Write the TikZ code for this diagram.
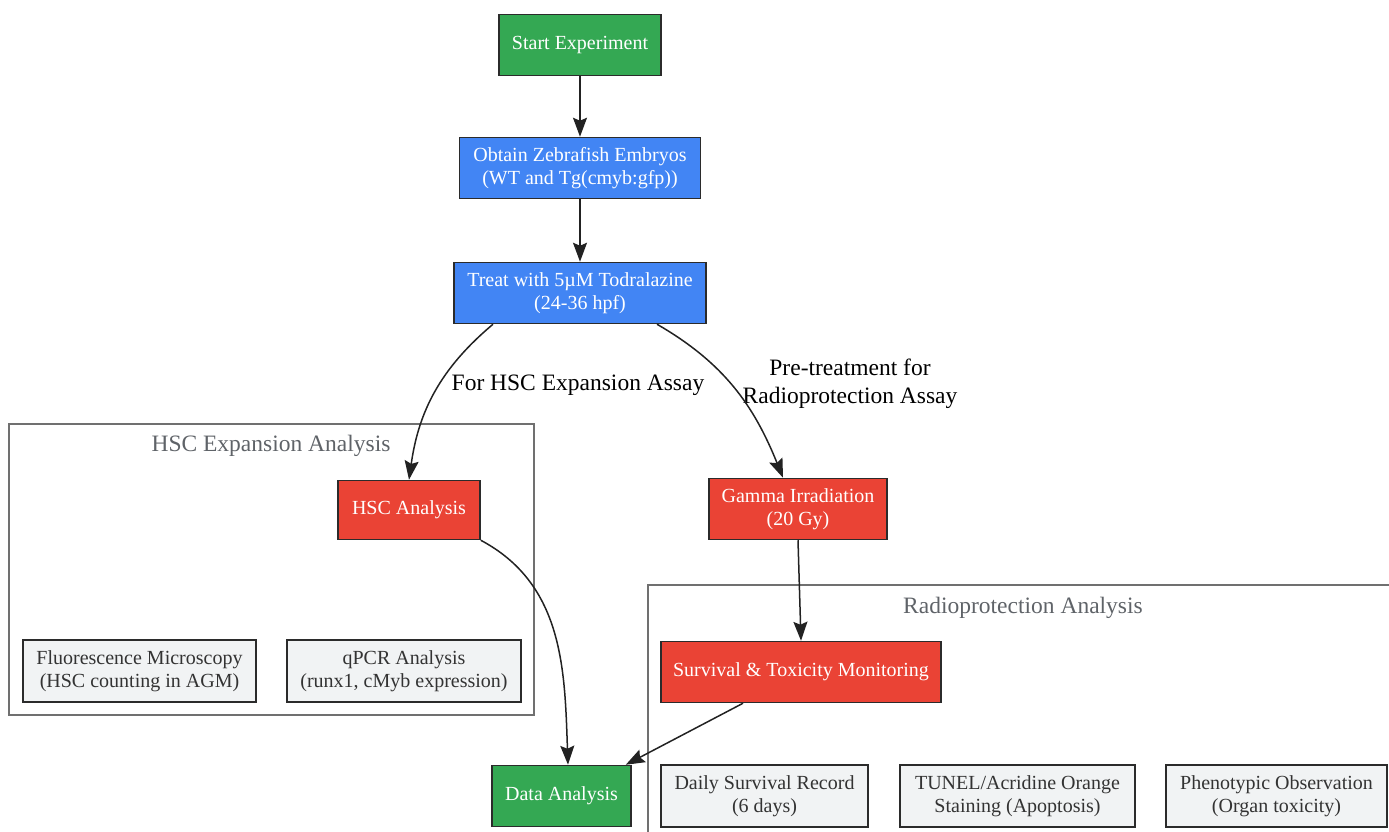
\documentclass[tikz,border=0pt]{standalone}
\usepackage{fontspec}
\setmainfont{Liberation Serif}
\usetikzlibrary{arrows.meta}

\definecolor{stepgreen}{HTML}{34A853}
\definecolor{stepblue}{HTML}{4285F4}
\definecolor{stepred}{HTML}{EA4335}
\definecolor{stepgrey}{HTML}{F1F3F4}
\definecolor{boxline}{HTML}{2B2B2B}
\definecolor{edgeline}{HTML}{222222}
\definecolor{clusterline}{HTML}{707070}
\definecolor{titlegrey}{HTML}{5F6368}
\definecolor{textgrey}{HTML}{333333}

\tikzset{
  box/.style={draw=boxline, line width=1.5pt, minimum height=61pt, inner sep=0pt,
    align=center, font=\fontsize{20}{23}\selectfont},
  greenbox/.style={box, fill=stepgreen, text=white},
  bluebox/.style={box, fill=stepblue, text=white},
  redbox/.style={box, fill=stepred, text=white},
  greybox/.style={box, fill=stepgrey, text=textgrey},
  cluster/.style={draw=clusterline, line width=1.5pt},
  clustertitle/.style={text=titlegrey, font=\fontsize{23.5}{28}\selectfont},
  edgelabel/.style={align=center, text=black, font=\fontsize{23.5}{28}\selectfont},
  flow/.style={draw=edgeline, line width=1.5pt, -{Stealth[length=19pt,width=14pt,inset=3pt]}}
}

\begin{document}
\begin{tikzpicture}[x=1pt,y=1pt]
\useasboundingbox (0,0) rectangle (1389,832);

% analysis groups
\draw[cluster] (9,117) rectangle (534,408);
\node[clustertitle] (hsctitle) at (271,386) {HSC Expansion Analysis};
\draw[cluster] (648,-5) rectangle (1400,247);
\node[clustertitle] (radiotitle) at (1023,224) {Radioprotection Analysis};

% main steps
\node[greenbox, minimum width=162pt] (start) at (580,787) {Start Experiment};
\node[bluebox, minimum width=241pt] (embryos) at (580,664) {Obtain Zebrafish Embryos\\(WT and Tg(cmyb:gfp))};
\node[bluebox, minimum width=252pt] (treat) at (580,539) {Treat with 5µM Todralazine\\(24-36 hpf)};
\node[redbox, minimum width=142pt, minimum height=59pt] (hsc) at (409,322) {HSC Analysis};
\node[redbox, minimum width=178pt] (gamma) at (798,323) {Gamma Irradiation\\(20 Gy)};
\node[redbox, minimum width=280pt] (survival) at (801,160) {Survival \& Toxicity Monitoring};
\node[greenbox, minimum width=139pt] (data) at (561.5,36) {Data Analysis};

% methods
\node[greybox, minimum width=233pt, minimum height=62pt] (fluor) at (139.5,161) {Fluorescence Microscopy\\(HSC counting in AGM)};
\node[greybox, minimum width=234pt, minimum height=62pt] (qpcr) at (404,161) {qPCR Analysis\\(runx1, cMyb expression)};
\node[greybox, minimum width=207pt, minimum height=62pt] (daily) at (764.5,36) {Daily Survival Record\\(6 days)};
\node[greybox, minimum width=235pt, minimum height=62pt] (tunel) at (1017.5,36) {TUNEL/Acridine Orange\\Staining (Apoptosis)};
\node[greybox, minimum width=221pt, minimum height=62pt] (pheno) at (1276.5,36) {Phenotypic Observation\\(Organ toxicity)};

% edge labels
\node[edgelabel] (lblhsc) at (578,447) {For HSC Expansion Assay};
\node[edgelabel] (lblradio) at (850,448) {Pre-treatment for\\Radioprotection Assay};

% connectors
\draw[flow] (start) -- (embryos);
\draw[flow] (embryos) -- (treat);
\draw[flow] ([xshift=-87pt]treat.south) to[out=220,in=82] (hsc.north);
\draw[flow] ([xshift=77pt]treat.south) to[out=-30,in=112] ([xshift=-15pt]gamma.north);
\draw[flow] (gamma.south) -- (survival.north);
\draw[flow] (hsc.south east) to[out=-28,in=92] ([xshift=6.5pt]data.north);
\draw[flow] ([xshift=-58pt]survival.south) -- ([xshift=-6pt]data.north east);
\end{tikzpicture}
\end{document}
